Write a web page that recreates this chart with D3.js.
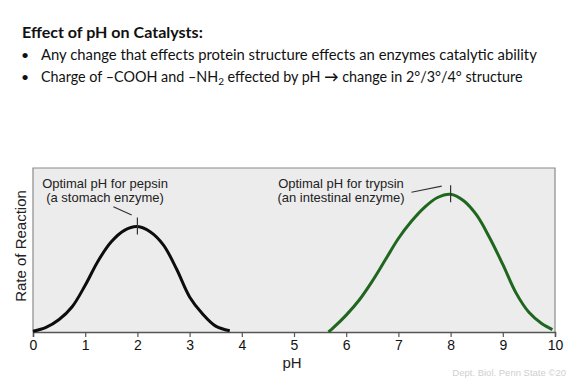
<!DOCTYPE html>
<html>
<head>
<meta charset="utf-8">
<script src="https://cdn.jsdelivr.net/npm/d3@7"></script>
<style>
  body { margin: 0; background: #fff; }
  svg { display: block; }
</style>
</head>
<body>
<div id="chart"></div>
<script>
// data
const pepsinPH   = [0, 0.25, 0.5, 0.75, 1, 1.25, 1.5, 1.75, 2, 2.25, 2.5, 2.75, 3, 3.25, 3.5, 3.77];
const pepsinRate = [0.5, 2.8, 7.6, 15.4, 28.5, 43.5, 55, 62, 64.3, 61, 53, 38.4, 21.4, 11, 3.6, 0.8];

const trypsinPH   = [5.66, 5.75, 6, 6.25, 6.5, 6.75, 7, 7.25, 7.5, 7.75, 8, 8.25, 8.5, 8.75, 9, 9.25, 9.5, 9.75, 9.95];
const trypsinRate = [0, 2.5, 10.3, 19.5, 31, 44, 57, 67.5, 76, 82, 84, 80, 71.2, 57.3, 41.2, 24, 12, 5, 1.5];

const phTicks = [0, 1, 2, 3, 4, 5, 6, 7, 8, 9, 10];

const peakPH   = [2, 8];
const peakRate = [64.3, 84];

const noteLines = [
    ["Optimal pH for pepsin", "(a stomach enzyme)"],
    ["Optimal pH for trypsin", "(an intestinal enzyme)"]
];
const noteCenterPH = [1.38, 5.9];

const W = 576, H = 384;
const margin = { top: 168, right: 21, bottom: 52, left: 33 };
const width = W - margin.left - margin.right;
const height = H - margin.top - margin.bottom;

const svg = d3.select("#chart").append("svg")
    .attr("width", W)
    .attr("height", H);

// header text
const head = svg.append("g")
    .style("font-family", "Lato, 'Open Sans', sans-serif")
    .style("fill", "#111");

// scale a text's font so that it spans the width seen in the picture
function fitWidth(sel, base, target) {
    const len = sel.node().getComputedTextLength();
    sel.style("font-size", (base * target / len) + "px");
}

const title = head.append("text")
    .attr("x", 22).attr("y", 38)
    .style("font-size", "14px")
    .style("font-weight", "bold")
    .text("Effect of pH on Catalysts:");
fitWidth(title, 14, 181);

head.append("text").attr("x", 21).attr("y", 60).style("font-size", "14px").text("•");
head.append("text").attr("x", 21).attr("y", 82).style("font-size", "14px").text("•");

const b1 = head.append("text")
    .attr("x", 41).attr("y", 60)
    .style("font-size", "14px")
    .text("Any change that effects protein structure effects an enzymes catalytic ability");
fitWidth(b1, 14, 496);

const b2 = head.append("text")
    .attr("x", 41).attr("y", 82)
    .style("font-size", "14px");
b2.append("tspan").text("Charge of \u2013COOH and \u2013NH");
b2.append("tspan").attr("dy", 3).style("font-size", "10px").text("2");
b2.append("tspan").attr("dy", -3).text(" effected by pH ");
b2.append("tspan").style("font-weight", "bold").text("\u2192");
b2.append("tspan").text(" change in 2\u00b0/3\u00b0/4\u00b0  structure");
fitWidth(b2, 14, 482);

const g = svg.append("g")
    .attr("transform", `translate(${margin.left},${margin.top})`);

const x = d3.scaleLinear().domain([0, 10]).range([0, width]);
const y = d3.scaleLinear().domain([0, 100]).range([height, 0]);

// plot panel
g.append("rect")
    .attr("width", width)
    .attr("height", height)
    .style("fill", "#ececec");

g.append("path")
    .attr("d", `M0,${height}V0H${width}V${height}`)
    .style("fill", "none")
    .style("stroke", "#8a8a8a")
    .style("stroke-width", 1.2);

// x axis
const xAxis = d3.axisBottom(x).tickValues(phTicks).tickSize(5).tickPadding(3);
const ax = g.append("g")
    .attr("transform", `translate(0,${height})`)
    .call(xAxis);
ax.select(".domain").style("stroke", "#555").style("stroke-width", 1.5);
ax.selectAll(".tick line").style("stroke", "#555").style("stroke-width", 1.2);
ax.selectAll("text")
    .style("font-family", "'Liberation Sans', Arial, sans-serif")
    .style("font-size", "14px")
    .style("fill", "#111");

g.append("text")
    .attr("x", width / 2 - 2)
    .attr("y", height + 36)
    .attr("text-anchor", "middle")
    .style("font-family", "'Liberation Sans', Arial, sans-serif")
    .style("font-size", "15px")
    .style("fill", "#222")
    .text("pH");

g.append("text")
    .attr("transform", `translate(-7,${height / 2 - 4}) rotate(-90)`)
    .attr("text-anchor", "middle")
    .style("font-family", "'Liberation Sans', Arial, sans-serif")
    .style("font-size", "15px")
    .style("fill", "#222")
    .text("Rate of Reaction");

// curves
const line = d3.line()
    .x(d => x(d[0]))
    .y(d => y(d[1]))
    .curve(d3.curveCatmullRom);

g.append("path")
    .datum(d3.zip(pepsinPH, pepsinRate))
    .attr("d", line)
    .style("fill", "none")
    .style("stroke", "#0d0d0d")
    .style("stroke-width", 3);

g.append("path")
    .datum(d3.zip(trypsinPH, trypsinRate))
    .attr("d", line)
    .style("fill", "none")
    .style("stroke", "#1f661f")
    .style("stroke-width", 3);

// optimum markers
g.selectAll(".peak")
    .data(d3.zip(peakPH, peakRate))
    .enter().append("line")
    .attr("class", "peak")
    .attr("x1", d => x(d[0])).attr("x2", d => x(d[0]))
    .attr("y1", d => y(d[1]) - 9).attr("y2", d => y(d[1]) + 8)
    .style("stroke", "#333")
    .style("stroke-width", 1.2);

// leader lines
const leaders = [[[1.54, 76.4], [1.89, 71.3]], [[7.25, 85.2], [7.83, 89]]];
g.selectAll(".leader")
    .data(leaders)
    .enter().append("line")
    .attr("class", "leader")
    .attr("x1", d => x(d[0][0])).attr("y1", d => y(d[0][1]))
    .attr("x2", d => x(d[1][0])).attr("y2", d => y(d[1][1]))
    .style("stroke", "#333")
    .style("stroke-width", 1.2);

// notes
noteLines.forEach((lines, i) => {
    const t = g.append("text")
        .attr("text-anchor", "middle")
        .style("font-family", "'Liberation Sans', Arial, sans-serif")
        .style("font-size", "13px")
        .style("fill", "#222");
    lines.forEach((s, j) => {
        t.append("tspan")
            .attr("x", x(noteCenterPH[i]))
            .attr("y", 20 + j * 14)
            .text(s);
    });
});

// credit
svg.append("text")
    .attr("x", 566)
    .attr("y", 376)
    .attr("text-anchor", "end")
    .style("font-family", "'Liberation Sans', Arial, sans-serif")
    .style("font-size", "9.5px")
    .style("fill", "#cfcfcf")
    .text("Dept. Biol. Penn State \u00a920");
</script>
</body>
</html>
